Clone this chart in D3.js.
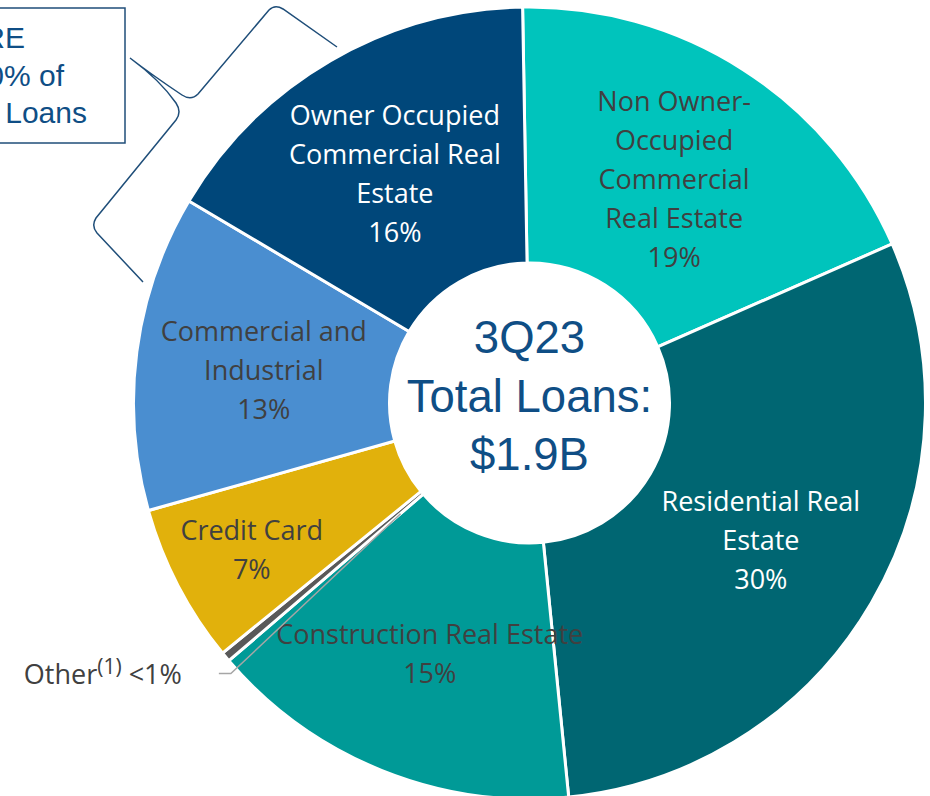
<!DOCTYPE html>
<html>
<head>
<meta charset="utf-8">
<script src="https://cdn.jsdelivr.net/npm/d3@7"></script>
<style>
  html, body { margin: 0; padding: 0; background: #ffffff; }
  svg { display: block; }
</style>
</head>
<body>
<div id="chart"></div>
<script>
// ---------- data ----------
const categories = [
  "Non Owner-Occupied Commercial Real Estate",
  "Residential Real Estate",
  "Construction Real Estate",
  "Other",
  "Credit Card",
  "Commercial and Industrial",
  "Owner Occupied Commercial Real Estate"
];
const values = [18.7, 30.0, 15.3, 0.4, 6.5, 12.9, 16.2];
const pctLabels = ["19%", "30%", "15%", "<1%", "7%", "13%", "16%"];
const labelLines = [
  ["Non Owner-", "Occupied", "Commercial", "Real Estate"],
  ["Residential Real", "Estate"],
  ["Construction Real Estate"],
  [],
  ["Credit Card"],
  ["Commercial and", "Industrial"],
  ["Owner Occupied", "Commercial Real", "Estate"]
];
const colors = ["#00c4bc", "#006672", "#009a97", "#595959", "#e1b10c", "#4a8ed0", "#00477a"];
const labelColors = ["#404040", "#ffffff", "#404040", "#404040", "#404040", "#404040", "#ffffff"];
const centerLines = ["3Q23", "Total Loans:", "$1.9B"];
const boxLines = ["CRE", "~50% of", "Total Loans"];

// ---------- layout ----------
const W = 930, H = 796;
const cx = 529.5, cy = 403;
const R = 396, r0 = 140;
const deg = Math.PI / 180;

const svg = d3.select("#chart").append("svg")
  .attr("width", W).attr("height", H)
  .attr("viewBox", `0 0 ${W} ${H}`);
svg.append("rect").attr("width", W).attr("height", H).attr("fill", "#ffffff");

const g = svg.append("g").attr("transform", `translate(${cx},${cy})`);

const pie = d3.pie().sort(null).value(d => d)
  .startAngle(-1 * deg).endAngle(-1 * deg + 2 * Math.PI);
const arcs = pie(values);

const arc = d3.arc().innerRadius(r0).outerRadius(R);

g.selectAll("path.slice").data(arcs).enter().append("path")
  .attr("class", "slice")
  .attr("d", arc)
  .attr("fill", (d, i) => colors[i])
  .attr("stroke", "#ffffff")
  .attr("stroke-width", 3)
  .attr("stroke-linejoin", "miter");

// ---------- slice labels ----------
const fontFamily = "'Open Sans', 'Noto Sans', sans-serif";
const lh = 39;
arcs.forEach((a, i) => {
  if (i === 3) return;
  const lines = labelLines[i].concat([pctLabels[i]]);
  const mid = (a.startAngle + a.endAngle) / 2;
  const rad = (i === 4) ? 313 : 268;
  const px = rad * Math.sin(mid), py = -rad * Math.cos(mid);
  const t = g.append("text")
    .attr("text-anchor", "middle")
    .attr("font-family", fontFamily)
    .attr("font-size", 27)
    .attr("fill", labelColors[i]);
  lines.forEach((ln, k) => {
    t.append("tspan")
      .attr("x", px)
      .attr("y", py - (lines.length - 1) * lh / 2 + 12 + k * lh)
      .text(ln);
  });
});

// ---------- "Other" label with leader ----------
{
  const a = arcs[3];
  const mid = (a.startAngle + a.endAngle) / 2;
  const m1 = mid - 0.8 * deg, m2 = mid - 2.3 * deg;
  const p1 = [170 * Math.sin(m1), -170 * Math.cos(m1)];
  const p2 = [403 * Math.sin(m2), -403 * Math.cos(m2)];
  const p3 = [p2[0] - 12, p2[1]];
  g.append("polyline")
    .attr("points", [p1, p2, p3].map(p => p.join(",")).join(" "))
    .attr("fill", "none")
    .attr("stroke", "#a6a6a6")
    .attr("stroke-width", 1.5);
  const t = g.append("text")
    .attr("x", p3[0] - 37).attr("y", p3[1] + 10)
    .attr("text-anchor", "end")
    .attr("font-family", fontFamily)
    .attr("font-size", 27)
    .attr("fill", "#404040");
  t.append("tspan").text(categories[3]);
  t.append("tspan").attr("font-size", 21).attr("dy", -10).text("(1)");
  t.append("tspan").attr("dy", 10).text("\u00a0" + pctLabels[3]);
}

// ---------- center text ----------
const ct = g.append("text")
  .attr("text-anchor", "middle")
  .attr("font-family", "'Liberation Sans', Arial, sans-serif")
  .attr("font-size", 45.5)
  .attr("fill", "#0f4e85");
centerLines.forEach((ln, k) => {
  ct.append("tspan").attr("x", 0).attr("y", -50 + k * 58.5).text(ln);
});

// ---------- annotation box & brace ----------
svg.append("rect")
  .attr("x", -10).attr("y", 8).attr("width", 135).attr("height", 135)
  .attr("fill", "#ffffff").attr("stroke", "#1f4e79").attr("stroke-width", 1.5);
const bt = svg.append("text")
  .attr("text-anchor", "end")
  .attr("font-family", "'Liberation Sans', Arial, sans-serif")
  .attr("font-size", 30)
  .attr("fill", "#0f4e85");
const boxEnds = [25, 64, 87];
const boxBase = [48, 85.5, 123];
boxLines.forEach((ln, k) => {
  bt.append("tspan").attr("x", boxEnds[k]).attr("y", boxBase[k]).text(ln);
});

svg.append("path")
  .attr("d", "M337,47 L283,9 Q275,4 269,10 L198,94 Q191,101 182,95 Q152,75 130,58 " +
             "M130,58 Q160,80 176,103 Q182,112 176,120 L96,218 Q91,226 97,233 L143,282")
  .attr("fill", "none")
  .attr("stroke", "#1f4e79")
  .attr("stroke-width", 1.5);
</script>
</body>
</html>
